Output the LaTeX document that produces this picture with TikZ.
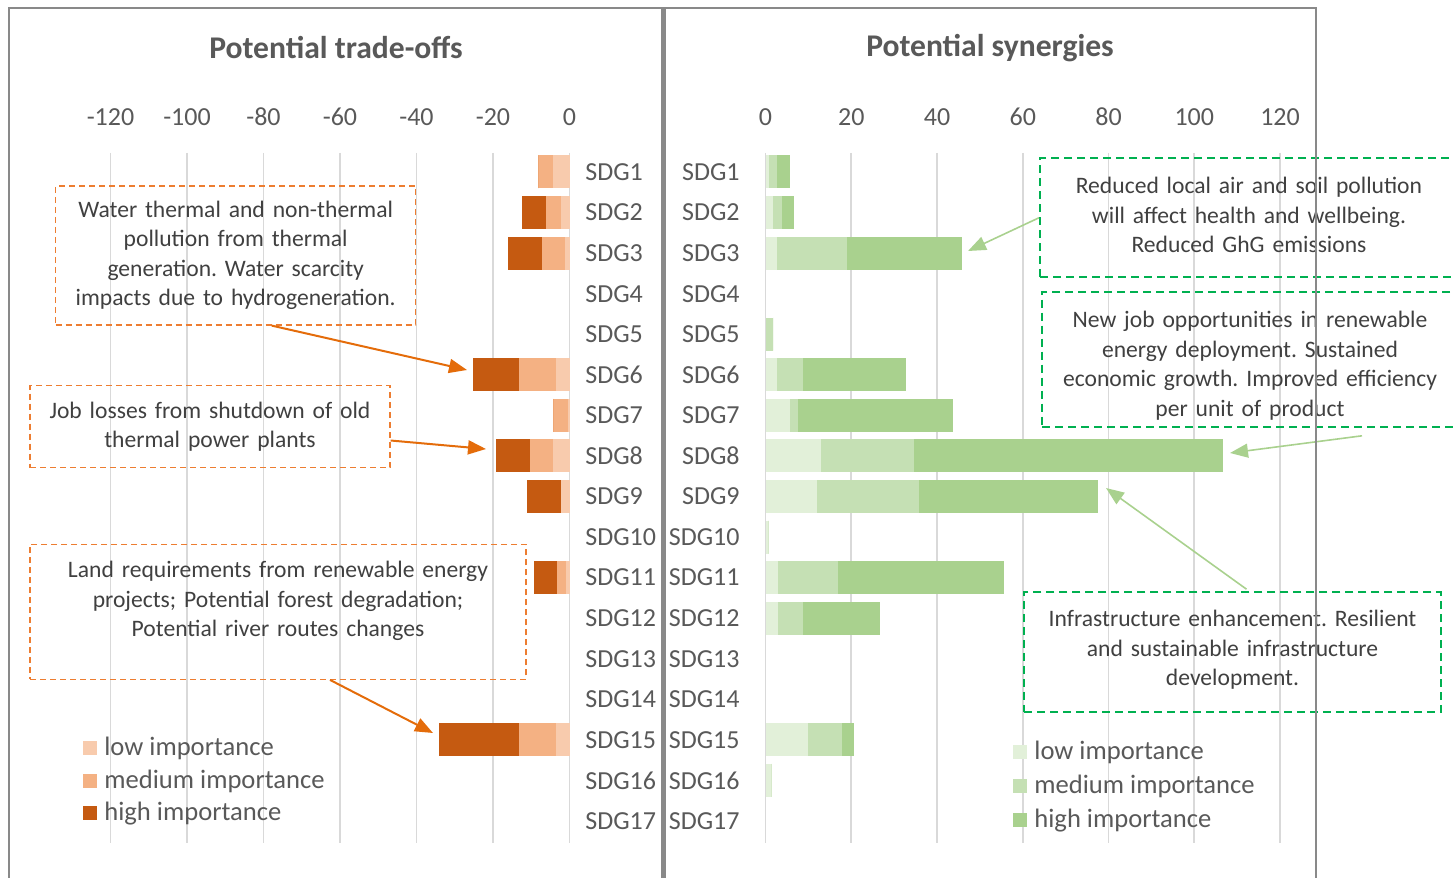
\documentclass[tikz,border=0pt]{standalone}
\usepackage{fontspec}
\setmainfont{Carlito}
\usetikzlibrary{arrows.meta}
\frenchspacing
\definecolor{olow}{HTML}{F8CBAD}
\definecolor{omed}{HTML}{F4B183}
\definecolor{ohigh}{HTML}{C55A11}
\definecolor{glow}{HTML}{E2F0D9}
\definecolor{gmed}{HTML}{C5E0B4}
\definecolor{ghigh}{HTML}{A9D18E}
\definecolor{odash}{HTML}{ED7D31}
\definecolor{oarr}{HTML}{E46C0A}
\definecolor{gdash}{HTML}{00B050}
\definecolor{labgray}{HTML}{595959}
\definecolor{boxtext}{HTML}{404040}
\definecolor{gridgray}{HTML}{D9D9D9}
\definecolor{framegray}{HTML}{898989}
\begin{document}
\begin{tikzpicture}[x=0.5pt,y=-0.5pt,
    gridln/.style={gridgray,line width=0.9pt},
    frame/.style={framegray,line width=1.3pt},
    ticklab/.style={font=\fontsize{13}{15}\selectfont,text=labgray},
    sdg/.style={font=\fontsize{13}{15}\selectfont,text=labgray,inner sep=0pt},
    ttl/.style={font=\fontsize{15.8}{18}\selectfont\bfseries,text=labgray},
    leg/.style={font=\fontsize{13.3}{16}\selectfont,text=labgray,inner sep=0pt,anchor=base west},
    obox/.style={draw=odash,line width=0.6pt,dash pattern=on 3pt off 2pt,inner sep=0pt,align=center,
        text=boxtext,font=\fontsize{11.8}{14.75}\selectfont},
    gbox/.style={draw=gdash,line width=1.1pt,dash pattern=on 4pt off 2.5pt,inner sep=0pt,align=center,
        text=boxtext,font=\fontsize{11.8}{14.75}\selectfont},
    oarrow/.style={oarr,line width=1pt,-{Triangle[length=9pt,width=7pt]}},
    garrow/.style={ghigh,line width=0.8pt,-{Triangle[length=9pt,width=7pt]}}]
    \useasboundingbox (0,0) rectangle (1454,877);
    \clip (0,0) rectangle (1454,877);
    \foreach \k in {0,...,6} {
        \draw[gridln] ({569.5-76.5*\k},153) -- ({569.5-76.5*\k},843);
        \draw[gridln] ({765.5+85.75*\k},153) -- ({765.5+85.75*\k},843);
        \pgfmathtruncatemacro\v{20*\k}
        \node[ticklab] (lt\k) at ({569.5-76.5*\k},117) {\ifnum\v=0 0\else -\v\fi};
        \node[ticklab] (rt\k) at ({765.5+85.75*\k},117) {\v};
    }
    \foreach \r/\lo/\me/\hi in {1/4.4/3.8/0, 2/2.3/3.8/6.3, 3/1.2/6.1/8.9, 6/3.5/9.8/12, 7/0.5/3.7/0,
        8/4.4/5.9/8.9, 9/2.3/0/8.9, 11/0.8/2.5/5.9, 15/3.5/9.8/20.8} {
        \pgfmathsetmacro\y{172+(\r-1)*40.56}
        \fill[olow] (569.5,{\y-16.5}) rectangle ({569.5-3.825*\lo},{\y+16.5});
        \fill[omed] ({569.5-3.825*\lo},{\y-16.5}) rectangle ({569.5-3.825*(\lo+\me)},{\y+16.5});
        \fill[ohigh] ({569.5-3.825*(\lo+\me)},{\y-16.5}) rectangle ({569.5-3.825*(\lo+\me+\hi)},{\y+16.5});
    }
    \foreach \r/\lo/\me/\hi in {1/0.75/2/3, 2/1.8/2.1/2.8, 3/2.7/16.2/26.9, 5/0/1.8/0, 6/2.7/6.1/24,
        7/5.7/1.9/36.1, 8/12.9/21.8/72, 9/11.9/23.9/41.8, 10/0.8/0/0, 11/2.9/14/38.7,
        12/2.9/5.8/17.9, 15/9.8/8.1/2.8, 16/1.5/0/0} {
        \pgfmathsetmacro\y{172+(\r-1)*40.56}
        \fill[glow] (765.5,{\y-16.5}) rectangle ({765.5+4.2875*\lo},{\y+16.5});
        \fill[gmed] ({765.5+4.2875*\lo},{\y-16.5}) rectangle ({765.5+4.2875*(\lo+\me)},{\y+16.5});
        \fill[ghigh] ({765.5+4.2875*(\lo+\me)},{\y-16.5}) rectangle ({765.5+4.2875*(\lo+\me+\hi)},{\y+16.5});
    }
    \foreach \r in {1,...,17} {
        \pgfmathsetmacro\y{172+(\r-1)*40.56}
        \node[sdg,anchor=west] (ls\r) at (585,\y) {SDG\r};
        \node[sdg,anchor=east] (rs\r) at (740,\y) {SDG\r};
    }
    \node[ttl] (tl) at (336,48) {Potential trade-offs};
    \node[ttl] (tr) at (990,48) {Potential synergies};
    \foreach \c/\t [count=\i from 0] in {olow/low, omed/medium, ohigh/high} {
        \fill[\c] (83,{741+32.5*\i}) rectangle +(14,14);
        \node[leg] (ol\i) at (104,{755.5+32.5*\i}) {\t\ importance};
    }
    \foreach \c/\t [count=\i from 0] in {glow/low, gmed/medium, ghigh/high} {
        \fill[\c] (1013,{745+33.8*\i}) rectangle +(14,14);
        \node[leg] (gl\i) at (1034,{759.5+33.8*\i}) {\t\ importance};
    }
    \node[obox,text width=180pt,minimum height=69.5pt] (wbox) at (235.7,255.5)
        {Water thermal and non-thermal\\pollution from thermal\\generation. Water scarcity\\impacts due to hydrogeneration.};
    \node[obox,text width=180pt,minimum height=41pt] (jbox) at (210,426.5)
        {Job losses from shutdown of old\\thermal power plants};
    \node[obox,text width=248pt,minimum height=67.6pt,text depth=42pt] (lbox) at (278,611.7)
        {Land requirements from renewable energy\\projects; Potential forest degradation;\\Potential river routes changes};
    \node[gbox,text width=209pt,minimum height=59.5pt,text depth=32.3pt] (abox) at (1249,217.8)
        {Reduced local air and soil pollution\\will affect health and wellbeing.\\Reduced GhG emissions};
    \node[gbox,text width=208pt,minimum height=67.5pt,text depth=39.75pt] (bbox) at (1250,359.2)
        {New job opportunities in renewable\\energy deployment. Sustained\\economic growth. Improved efficiency\\per unit of product};
    \node[gbox,text width=208.5pt,minimum height=59.7pt,text depth=33.7pt] (cbox) at (1232.5,652)
        {Infrastructure enhancement. Resilient\\and sustainable infrastructure\\development.};
    \coordinate (t6) at (467,370);
    \coordinate (t8) at (486,449);
    \coordinate (t15) at (433,733);
    \coordinate (g3) at (968,251);
    \coordinate (g8) at (1230,453);
    \coordinate (g9) at (1106,488);
    \draw[oarrow] ([xshift=18pt]wbox.south) -- (t6);
    \draw[oarrow] ([yshift=-7pt]jbox.east) -- (t8);
    \draw[oarrow] ([xshift=26pt]lbox.south) -- (t15);
    \draw[garrow] (abox.west) -- (g3);
    \draw[garrow] ([xshift=56pt,yshift=-4pt]bbox.south) -- (g8);
    \draw[garrow] ([xshift=7pt,yshift=1pt]cbox.north) -- (g9);
    \draw[frame] (9,900) |- (662,8) -- (662,900);
    \draw[frame] (664.5,900) |- (1316,8) -- (1316,900);
\end{tikzpicture}
\end{document}
